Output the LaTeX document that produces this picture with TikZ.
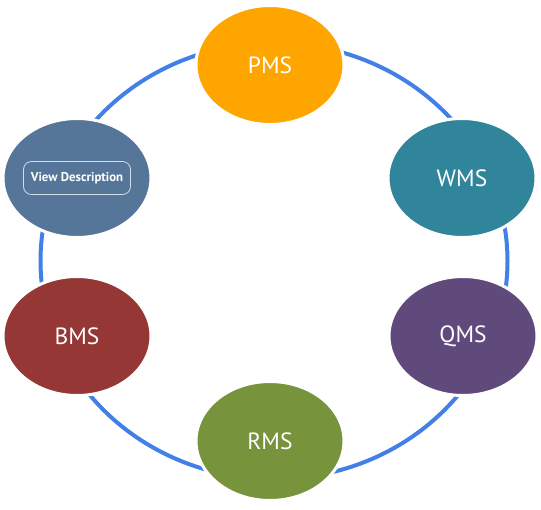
\documentclass[tikz,border=0pt]{standalone}
\usepackage{fontspec}
\setmainfont{PT Sans}
\usetikzlibrary{shapes.geometric}
\definecolor{ringblue}{RGB}{66,128,232}
\definecolor{pmsorange}{RGB}{255,165,0}
\definecolor{wmsteal}{RGB}{49,133,155}
\definecolor{qmspurple}{RGB}{96,74,123}
\definecolor{rmsgreen}{RGB}{119,147,60}
\definecolor{bmsred}{RGB}{149,55,53}
\definecolor{viewblue}{RGB}{85,117,153}

\begin{document}
\begin{tikzpicture}[x=1pt,y=-1pt,
		system/.style={ellipse, draw=white, line width=3pt, minimum width=148pt,
			minimum height=119pt, inner sep=0pt, text=white,
			font=\fontsize{23.5}{28}\selectfont},
		button/.style={draw=white!75!viewblue, line width=0.8pt, rounded corners=8pt,
			minimum width=107pt, minimum height=33pt, text=white,
			font=\bfseries\fontsize{12.8}{15}\selectfont}]
		\useasboundingbox (0,0) rectangle (541,509);
		\coordinate (hub) at (274,261);
		\draw[ringblue, line width=4pt] (hub) ellipse [x radius=233.5pt, y radius=218pt];
		\node[system, fill=pmsorange] (pms) at (270,65) {PMS};
		\node[system, fill=wmsteal] (wms) at (462,178) {WMS};
		\node[system, fill=qmspurple] (qms) at (463,336) {QMS};
		\node[system, fill=rmsgreen] (rms) at (270,441) {RMS};
		\node[system, fill=bmsred] (bms) at (77,336) {BMS};
		\node[system, fill=viewblue] (view) at (77,178) {};
		\node[button] (desc) at (view) {View Description};
	\end{tikzpicture}
\end{document}
